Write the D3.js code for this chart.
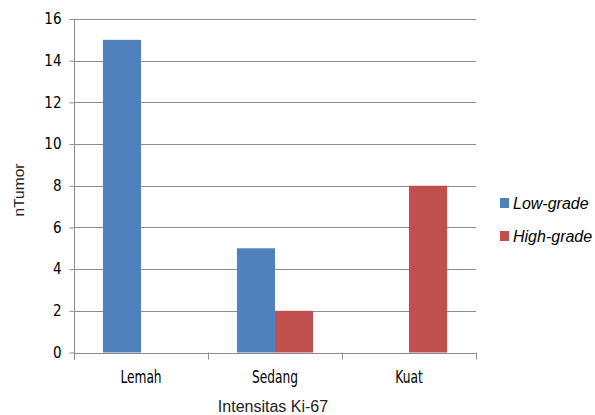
<!DOCTYPE html>
<html>
<head>
<meta charset="utf-8">
<script src="https://cdn.jsdelivr.net/npm/d3@7"></script>
<style>
  html, body { margin: 0; padding: 0; background: #fff; }
  svg { display: block; }
</style>
</head>
<body>
<svg id="chart" width="595" height="415"></svg>
<script>
// Tumour counts by Ki-67 staining intensity
const categories = ["Lemah", "Sedang", "Kuat"];
const seriesNames = ["Low-grade", "High-grade"];
const lowGrade = [15, 5, 0];
const highGrade = [0, 2, 8];
const yTicks = [0, 2, 4, 6, 8, 10, 12, 14, 16];
const colors = ["#4F81BD", "#C0504D"];

const svg = d3.select("#chart");
const plot = { left: 74, right: 476, top: 19, bottom: 352.5 };

const x = d3.scaleBand().domain(categories).range([plot.left, plot.right]).paddingInner(0).paddingOuter(0);
const xs = d3.scaleBand().domain(seriesNames).range([0, x.bandwidth()]).paddingInner(0).paddingOuter(0.76);
const y = d3.scaleLinear().domain([0, 16]).range([plot.bottom, plot.top]);

const numFont = "'DejaVu Sans Condensed', 'Liberation Sans Narrow', sans-serif";
const textFont = "'Liberation Sans', Arial, sans-serif";
const gridColor = "#8c8c8c";

// horizontal gridlines
svg.append("g").selectAll("line").data(yTicks.filter(d => d > 0)).join("line")
  .attr("x1", plot.left).attr("x2", plot.right)
  .attr("y1", d => Math.round(y(d)) + 0.5).attr("y2", d => Math.round(y(d)) + 0.5)
  .attr("stroke", gridColor).attr("stroke-width", 1);

// bars
const rows = categories.map((c, i) => ({ cat: c, vals: [lowGrade[i], highGrade[i]] }));
const groups = svg.append("g").selectAll("g").data(rows).join("g")
  .attr("transform", d => `translate(${x(d.cat)},0)`);
groups.selectAll("rect").data(d => d.vals.map((v, j) => ({ v, s: seriesNames[j], j })).filter(e => e.v > 0))
  .join("rect")
  .attr("x", d => xs(d.s))
  .attr("width", xs.bandwidth())
  .attr("y", d => y(d.v))
  .attr("height", d => y(0) - y(d.v))
  .attr("fill", d => colors[d.j]);

// y axis
const yAxis = d3.axisLeft(y).tickValues(yTicks).tickSize(5).tickPadding(8).tickFormat(d3.format("d"));
const gy = svg.append("g").attr("transform", `translate(${plot.left + 0.5},0)`).call(yAxis);
gy.select(".domain").attr("stroke", gridColor).attr("d", `M0,${plot.top}V${plot.bottom + 7}`);
gy.selectAll(".tick line").attr("stroke", gridColor);
gy.selectAll(".tick text").attr("font-family", numFont).attr("font-size", 15).attr("fill", "#000");

// x axis baseline and category boundary ticks
const gx = svg.append("g");
gx.append("line").attr("x1", plot.left).attr("x2", plot.right)
  .attr("y1", Math.round(y(0)) + 0.5).attr("y2", Math.round(y(0)) + 0.5)
  .attr("stroke", gridColor);
const bounds = categories.map(c => x(c)).concat([x(categories[categories.length - 1]) + x.bandwidth()]);
gx.selectAll("line.b").data(bounds).join("line").attr("class", "b")
  .attr("x1", d => Math.round(d) + 0.5).attr("x2", d => Math.round(d) + 0.5)
  .attr("y1", y(0)).attr("y2", y(0) + 7)
  .attr("stroke", gridColor);
gx.selectAll("text").data(categories).join("text")
  .attr("transform", d => `translate(${x(d) + x.bandwidth() / 2},383) scale(0.8,1)`)
  .attr("text-anchor", "middle")
  .attr("font-family", numFont).attr("font-size", 17).attr("fill", "#000")
  .text(d => d);

// axis titles
svg.append("text").attr("x", 273).attr("y", 412).attr("text-anchor", "middle")
  .attr("font-family", textFont).attr("font-size", 16).attr("fill", "#222")
  .text("Intensitas Ki-67");
svg.append("text").attr("transform", "translate(24,190) rotate(-90)").attr("text-anchor", "middle")
  .attr("font-family", textFont).attr("font-size", 15.5).attr("fill", "#222")
  .text("nTumor");

// legend
const legend = svg.append("g").selectAll("g").data(seriesNames).join("g")
  .attr("transform", (d, i) => `translate(500,${198 + i * 33})`);
legend.append("rect").attr("width", 9).attr("height", 10).attr("fill", (d, i) => colors[i]);
legend.append("text").attr("x", 13).attr("y", 10.5)
  .attr("font-family", textFont).attr("font-size", 16)
  .attr("font-style", "italic").attr("fill", "#000")
  .text(d => d);
</script>
</body>
</html>
